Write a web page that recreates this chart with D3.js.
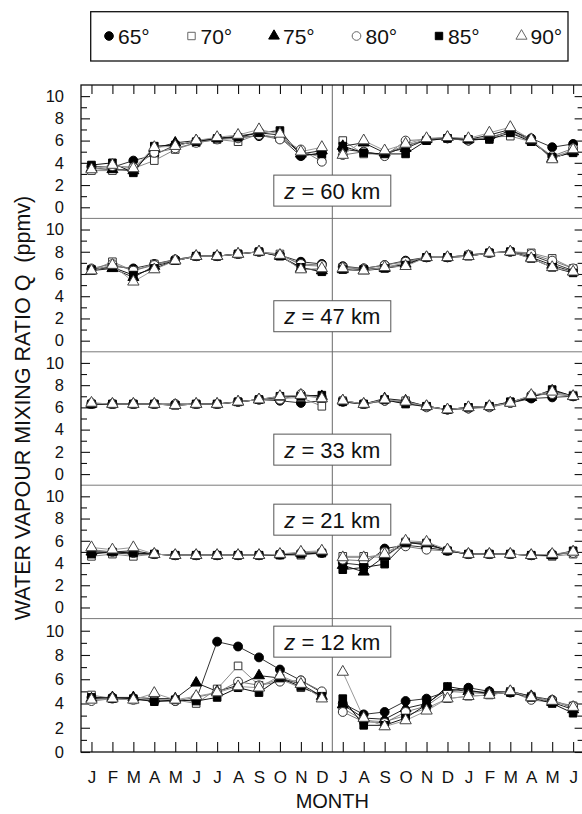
<!DOCTYPE html>
<html>
<head>
<meta charset="utf-8">
<script src="https://cdn.jsdelivr.net/npm/d3@7"></script>
<style>
  body { margin: 0; background: #fff; }
  svg { display: block; font-family: Arial, "Liberation Sans", Helvetica, sans-serif; }
</style>
</head>
<body>
<svg id="chart" width="582" height="814"></svg>
<script>
// Month axis: Jan–Dec on the left half, Jul–Jun on the right half
const monthTicks = ["J","F","M","A","M","J","J","A","S","O","N","D",
                    "J","A","S","O","N","D","J","F","M","A","M","J"];
const latitudes = ["65°", "70°", "75°", "80°", "85°", "90°"];
const altitudes = ["60", "47", "33", "21", "12"];
const yTickLabels = [0, 2, 4, 6, 8, 10];

// Water vapour mixing ratio (ppmv); one row per latitude (65°..90°), 24 months each
const q60km = [
  [3.7,3.6,4.2,4.7,5.6,5.9,6.2,6.3,6.4,6.3,4.6,4.9, 5.2,5.0,4.7,5.5,6.1,6.2,6.0,6.2,6.9,6.2,5.4,5.7],
  [3.3,3.3,3.5,4.2,5.2,5.8,6.1,5.9,6.6,6.2,5.0,4.5, 6.0,4.8,4.8,5.6,6.0,6.2,6.1,6.3,6.4,5.9,4.5,5.1],
  [3.5,3.4,3.3,5.3,5.8,6.0,6.2,6.4,6.7,6.5,4.8,5.1, 5.5,5.8,4.9,5.3,6.1,6.3,6.1,6.5,7.0,6.0,4.4,5.0],
  [3.6,3.7,3.6,4.9,5.3,5.8,6.1,6.2,6.5,6.1,5.2,4.1, 4.7,5.0,4.6,6.0,6.1,6.2,6.0,6.3,6.8,6.0,4.6,5.3],
  [3.8,4.0,3.1,5.5,5.6,5.9,6.2,6.3,6.7,6.9,4.7,4.8, 5.5,4.9,4.8,4.8,6.0,6.2,6.1,6.1,6.7,5.9,4.5,4.9],
  [3.4,3.8,3.5,5.4,5.5,6.0,6.3,6.5,7.0,6.6,5.0,5.4, 4.7,6.0,5.1,5.7,6.2,6.3,6.2,6.7,7.2,6.1,4.3,5.2]
];
const q47km = [
  [6.4,6.7,6.5,6.9,7.3,7.6,7.6,7.8,8.0,7.7,7.1,6.9, 6.7,6.5,6.8,7.2,7.5,7.5,7.7,7.9,8.0,7.7,7.0,6.3],
  [6.3,7.1,6.3,6.9,7.2,7.6,7.6,7.8,8.0,7.8,6.8,6.7, 6.6,6.4,6.6,7.0,7.5,7.5,7.7,7.9,8.0,7.9,7.4,6.5],
  [6.3,6.5,5.7,6.7,7.2,7.6,7.6,7.8,8.0,7.6,6.5,6.3, 6.4,6.3,6.5,6.9,7.5,7.5,7.6,7.9,8.0,7.5,6.8,6.2],
  [6.5,6.9,6.3,6.8,7.3,7.6,7.6,7.8,8.0,7.7,6.9,6.8, 6.6,6.5,6.8,7.1,7.5,7.5,7.7,7.9,8.0,7.8,7.2,6.5],
  [6.4,6.6,5.9,6.5,7.2,7.6,7.6,7.8,8.0,7.6,6.6,6.2, 6.4,6.4,6.5,6.8,7.5,7.5,7.6,7.9,8.0,7.4,6.6,6.1],
  [6.3,6.8,5.3,6.4,7.2,7.6,7.6,7.8,8.0,7.7,6.4,6.5, 6.5,6.3,6.6,6.7,7.5,7.5,7.6,7.9,8.0,7.4,6.6,6.2]
];
const q33km = [
  [6.3,6.3,6.3,6.3,6.3,6.3,6.3,6.5,6.7,6.6,6.4,6.6, 6.5,6.3,6.6,6.5,6.1,5.8,5.9,6.1,6.4,6.8,6.9,7.0],
  [6.3,6.3,6.3,6.3,6.2,6.3,6.3,6.5,6.7,6.8,6.9,6.1, 6.6,6.3,6.7,6.6,6.1,5.8,6.0,6.1,6.5,7.0,7.3,7.1],
  [6.3,6.3,6.3,6.3,6.2,6.3,6.3,6.5,6.7,6.9,7.1,7.0, 6.6,6.3,6.8,6.6,6.1,5.8,6.0,6.1,6.4,6.9,7.5,7.0],
  [6.4,6.3,6.3,6.3,6.3,6.3,6.3,6.5,6.7,6.7,7.2,6.9, 6.6,6.3,6.6,6.4,6.0,5.8,5.9,6.0,6.4,7.1,7.2,7.0],
  [6.3,6.3,6.3,6.3,6.2,6.3,6.3,6.5,6.7,7.0,7.0,7.1, 6.5,6.3,6.7,6.3,6.1,5.8,6.0,6.1,6.5,6.9,7.6,7.0],
  [6.4,6.3,6.3,6.3,6.2,6.3,6.3,6.5,6.7,7.0,7.1,6.8, 6.6,6.3,6.7,6.5,6.1,5.8,6.0,6.1,6.4,7.1,7.4,7.0]
];
const q21km = [
  [5.0,4.9,4.8,4.8,4.7,4.7,4.7,4.7,4.7,4.75,4.9,4.9, 4.0,3.8,5.3,5.6,5.4,5.1,4.8,4.8,4.8,4.7,4.8,4.9],
  [4.6,4.8,4.6,4.8,4.7,4.7,4.7,4.7,4.7,4.7,4.7,4.9,  4.6,4.6,4.5,5.9,5.7,5.1,4.8,4.8,4.8,4.7,4.6,4.8],
  [5.0,5.0,5.1,4.8,4.7,4.7,4.7,4.7,4.7,4.75,4.9,5.0, 3.8,3.2,4.6,5.9,5.6,5.2,4.8,4.8,4.8,4.7,4.7,5.0],
  [5.2,5.0,4.9,4.8,4.7,4.7,4.7,4.7,4.7,4.8,4.9,5.0,  4.3,4.2,5.0,5.5,5.2,5.1,4.8,4.8,4.8,4.7,4.8,4.9],
  [4.8,5.0,4.9,4.8,4.7,4.7,4.7,4.7,4.7,4.75,4.8,4.9, 3.4,3.6,3.9,5.8,5.8,5.1,4.8,4.8,4.8,4.7,4.7,5.1],
  [5.4,5.2,5.4,4.8,4.7,4.7,4.7,4.7,4.7,4.8,5.0,5.1,  4.5,4.5,4.8,6.0,5.9,5.2,4.8,4.8,4.8,4.7,4.8,5.0]
];
const q12km = [
  [4.5,4.5,4.4,4.2,4.2,4.3,9.1,8.7,7.8,6.8,5.9,4.9,  4.0,3.1,3.3,4.2,4.4,5.0,5.3,5.0,4.9,4.6,4.3,3.6],
  [4.7,4.4,4.3,4.3,4.3,4.0,5.2,7.1,5.5,6.0,5.3,4.7,  3.6,2.6,2.5,3.0,3.6,4.4,4.6,4.7,5.0,4.6,4.2,3.8],
  [4.4,4.5,4.5,4.4,4.4,5.7,5.0,5.5,6.3,6.1,5.6,4.6,  3.9,2.8,2.7,3.6,4.0,5.2,5.0,4.9,5.0,4.6,4.1,3.5],
  [4.2,4.4,4.3,4.3,4.2,4.5,4.9,5.8,5.5,5.8,5.9,5.0,  3.3,2.5,2.4,3.3,3.8,5.0,4.9,4.8,5.0,4.3,4.1,3.8],
  [4.5,4.4,4.4,4.15,4.3,4.2,4.5,5.3,4.9,6.1,5.4,4.6, 4.4,2.2,2.2,2.8,3.9,5.4,5.1,4.8,4.9,4.5,4.0,3.2],
  [4.3,4.4,4.3,4.85,4.3,4.6,4.9,5.4,5.3,6.3,5.6,4.4, 6.6,2.8,2.1,2.6,3.4,4.4,4.6,4.7,5.0,4.5,4.2,3.7]
];

const panels = [q60km, q47km, q33km, q21km, q12km];

// ---- layout ----
const plot = { left: 81, right: 583.6, top: 85, bottom: 752 };
const panelH = (plot.bottom - plot.top) / panels.length;
const yDomains = [[-1, 11], [-1, 11], [-1, 11], [-1, 11], [0, 11]];
const labelCenters = [1.5, 2.2, 2.2, 7.9, 9.1];   // label box centre, in each panel's units

// marker + line style per latitude
const styles = [
  { sym: d3.symbolCircle,   fill: "#000", stroke: "#000", line: "#333", size: 62 },
  { sym: d3.symbolSquare,   fill: "#fff", stroke: "#333", line: "#8a8a8a", size: 58 },
  { sym: d3.symbolTriangle, fill: "#000", stroke: "#000", line: "#222", size: 52 },
  { sym: d3.symbolCircle,   fill: "#fff", stroke: "#333", line: "#7a7a7a", size: 62 },
  { sym: d3.symbolSquare,   fill: "#000", stroke: "#000", line: "#111", size: 58 },
  { sym: d3.symbolTriangle, fill: "#fff", stroke: "#444", line: "#9a9a9a", size: 56 }
];

const svg = d3.select("#chart");
const ink = "#111";

const x = d3.scalePoint()
  .domain(d3.range(monthTicks.length))
  .range([plot.left, plot.right])
  .padding(0.5);
const splitX = (x(11) + x(12)) / 2;

// ---- panels ----
panels.forEach((rows, p) => {
  const top = plot.top + p * panelH;
  const y = d3.scaleLinear().domain(yDomains[p]).range([top + panelH, top]);
  const g = svg.append("g");

  // separator under each panel
  if (p < panels.length - 1) {
    g.append("line")
      .attr("x1", plot.left).attr("x2", plot.right)
      .attr("y1", top + panelH).attr("y2", top + panelH)
      .attr("stroke", "#7a7a7a").attr("stroke-width", 1);
  }

  // left axis: labelled major ticks + minor ticks, pointing inward
  const left = g.append("g").attr("transform", `translate(${plot.left},0)`);
  left.call(d3.axisLeft(y).tickValues(yTickLabels).tickSize(-9).tickPadding(17));
  left.append("g").call(d3.axisLeft(y).tickValues([1,3,5,7,9]).tickSize(-6).tickFormat(""));
  left.selectAll(".domain").remove();
  left.selectAll("text").attr("font-size", 16.5).attr("fill", ink).attr("font-family", null);
  left.selectAll("line").attr("stroke", ink).attr("stroke-width", 1.1);

  // right axis ticks, no labels
  const right = g.append("g").attr("transform", `translate(${plot.right},0)`);
  right.call(d3.axisRight(y).tickValues(yTickLabels).tickSize(-9).tickFormat(""));
  right.append("g").call(d3.axisRight(y).tickValues([1,3,5,7,9]).tickSize(-6).tickFormat(""));
  right.selectAll(".domain").remove();
  right.selectAll("line").attr("stroke", ink).attr("stroke-width", 1.1);
});

// vertical divider between the two years
svg.append("line")
  .attr("x1", splitX).attr("x2", splitX)
  .attr("y1", plot.top).attr("y2", plot.bottom)
  .attr("stroke", "#6a6a6a").attr("stroke-width", 1);

// month axes
const bottomAxis = svg.append("g")
  .attr("transform", `translate(0,${plot.bottom})`)
  .call(d3.axisBottom(x).tickSize(-10).tickPadding(19).tickFormat(i => monthTicks[i]));
bottomAxis.select(".domain").remove();
bottomAxis.selectAll("text").attr("font-size", 17).attr("fill", ink).attr("font-family", null);
bottomAxis.selectAll("line").attr("stroke", ink).attr("stroke-width", 1.1);

const topAxis = svg.append("g")
  .attr("transform", `translate(0,${plot.top})`)
  .call(d3.axisTop(x).tickSize(-9).tickFormat(""));
topAxis.select(".domain").remove();
topAxis.selectAll("line").attr("stroke", ink).attr("stroke-width", 1.1);

// series: lines first, then markers
panels.forEach((rows, p) => {
  const top = plot.top + p * panelH;
  const y = d3.scaleLinear().domain(yDomains[p]).range([top + panelH, top]);
  const g = svg.append("g");
  const line = d3.line().x(d => x(d.i)).y(d => y(d.v));

  rows.forEach((vals, s) => {
    const pts = vals.map((v, i) => ({ i, v }));
    [pts.slice(0, 12), pts.slice(12)].forEach(seg => {
      g.append("path").datum(seg)
        .attr("d", line)
        .attr("fill", "none")
        .attr("stroke", styles[s].line)
        .attr("stroke-width", 1);
    });
  });

  rows.forEach((vals, s) => {
    const st = styles[s];
    g.append("g").selectAll("path")
      .data(vals.map((v, i) => ({ i, v })))
      .join("path")
      .attr("transform", d => `translate(${x(d.i)},${y(d.v)})`)
      .attr("d", d3.symbol().type(st.sym).size(st.size))
      .attr("fill", st.fill)
      .attr("stroke", st.stroke)
      .attr("stroke-width", 1);
  });

  // altitude label box
  const cy = y(labelCenters[p]);
  const lab = svg.append("g");
  const t = lab.append("text")
    .attr("x", splitX).attr("y", cy)
    .attr("dy", "0.36em")
    .attr("text-anchor", "middle")
    .attr("font-size", 22)
    .attr("fill", ink);
  t.append("tspan").attr("font-style", "italic").text("z");
  t.append("tspan").text(` = ${altitudes[p]} km`);
  const bb = t.node().getBBox();
  lab.insert("rect", "text")
    .attr("x", splitX - bb.width / 2 - 10)
    .attr("y", cy - 15.5)
    .attr("width", bb.width + 20)
    .attr("height", 31)
    .attr("fill", "#fff")
    .attr("stroke", "#555")
    .attr("stroke-width", 1);
});

// plot frame
svg.append("rect")
  .attr("x", plot.left).attr("y", plot.top)
  .attr("width", plot.right - plot.left).attr("height", plot.bottom - plot.top)
  .attr("fill", "none").attr("stroke", ink).attr("stroke-width", 1.3);

// axis titles
svg.append("text")
  .attr("transform", "translate(30,408) rotate(-90)")
  .attr("text-anchor", "middle")
  .attr("font-size", 21.5)
  .attr("fill", ink)
  .attr("xml:space", "preserve")
  .text("WATER VAPOUR MIXING RATIO Q  (ppmv)");

svg.append("text")
  .attr("x", splitX).attr("y", 808)
  .attr("text-anchor", "middle")
  .attr("font-size", 20)
  .attr("fill", ink)
  .text("MONTH");

// legend
const legend = svg.append("g");
legend.append("rect")
  .attr("x", 90.7).attr("y", 11.7).attr("width", 477.3).attr("height", 49.3)
  .attr("fill", "#fff").attr("stroke", ink).attr("stroke-width", 1.3);
latitudes.forEach((lat, k) => {
  const st = styles[k];
  const cx = 109 + k * 82.5;
  legend.append("path")
    .attr("transform", `translate(${cx},36)`)
    .attr("d", d3.symbol().type(st.sym).size(st.size * 0.95))
    .attr("fill", st.fill)
    .attr("stroke", st.fill === "#fff" ? "#666" : st.stroke)
    .attr("stroke-width", 1);
  legend.append("text")
    .attr("x", cx + 9).attr("y", 43.5)
    .attr("font-size", 21)
    .attr("fill", ink)
    .text(lat);
});
</script>
</body>
</html>
